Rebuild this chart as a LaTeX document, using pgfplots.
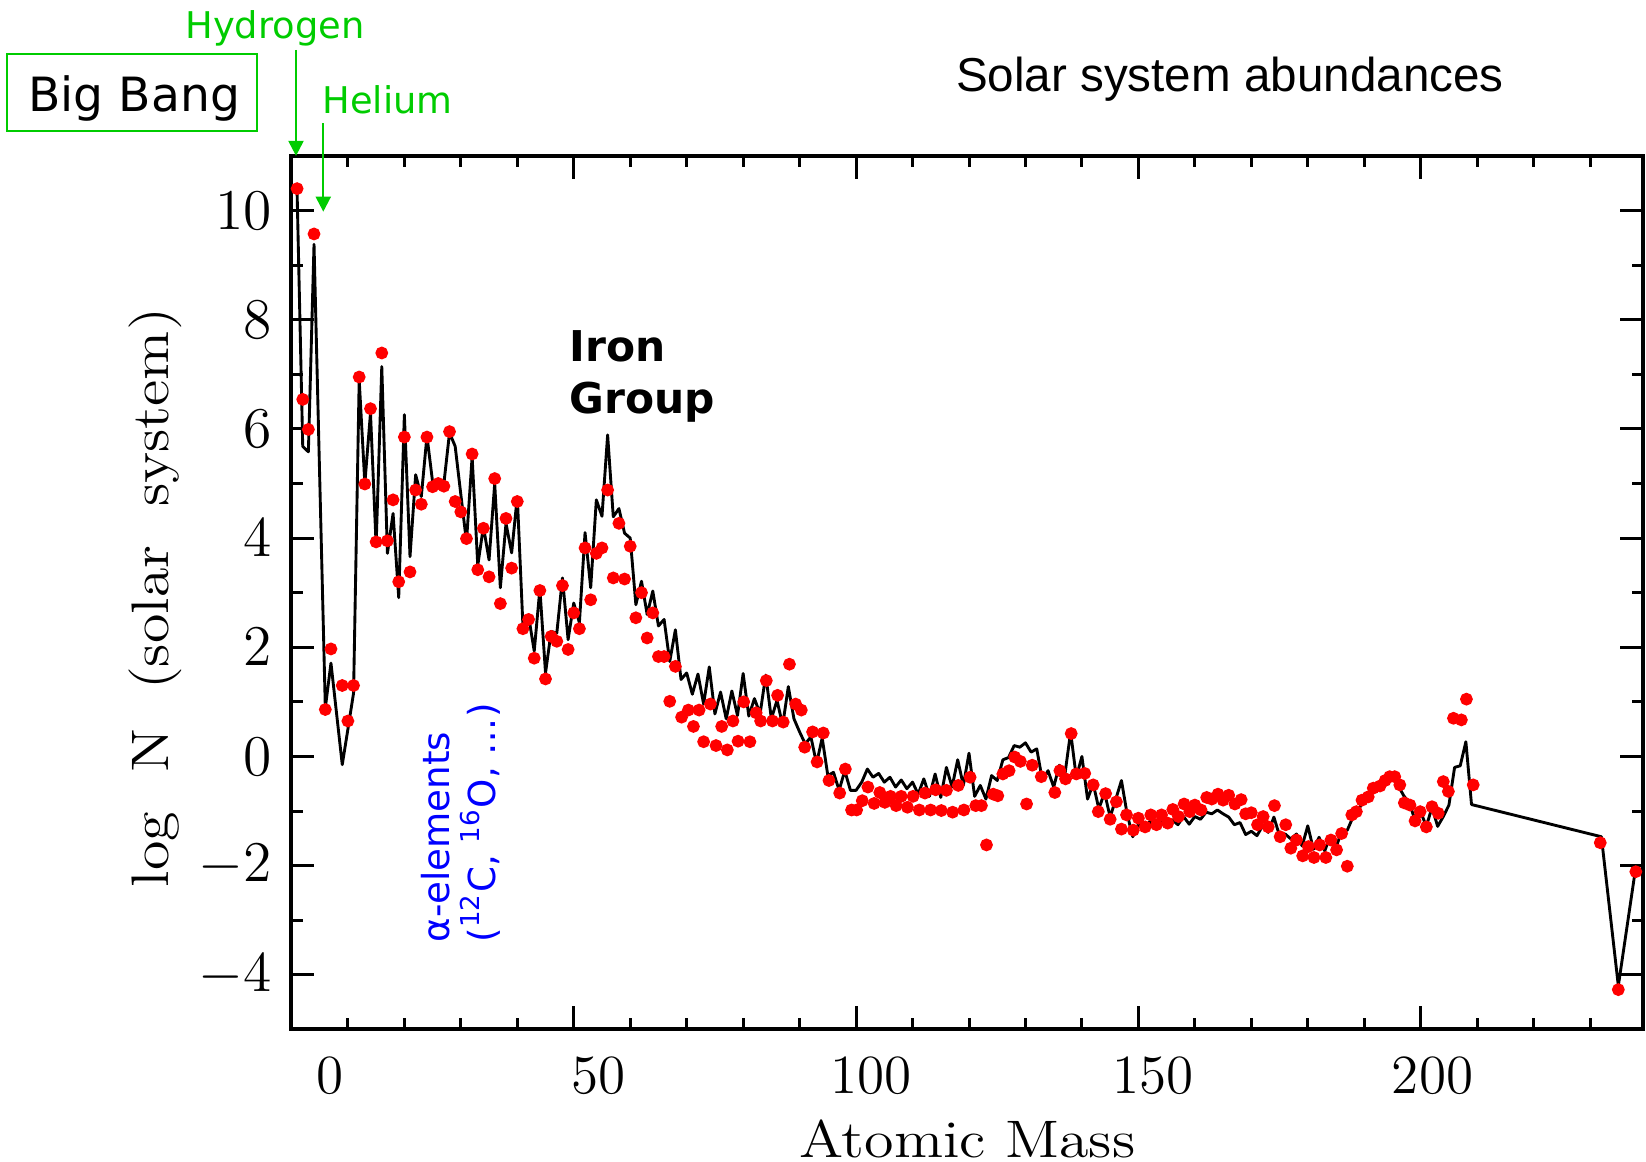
\documentclass[border=0pt]{standalone}
\usepackage{fontspec}
\usepackage{graphicx}
\usepackage{pgfplots}
\usepackage{pgfplotstable}
\pgfplotsset{compat=1.18}
\usetikzlibrary{arrows.meta}
\newfontfamily\dejavu{DejaVu Sans}
\newfontfamily\libsans{Liberation Sans}
\definecolor{bbgreen}{RGB}{0,204,0}
\definecolor{ptred}{RGB}{255,0,0}
\definecolor{alphablue}{RGB}{0,0,255}

% red points
\pgfplotstableread{
m v
1 10.40
2 6.54
3 5.99
4 9.57
6 0.86
7 1.97
9 1.30
10 0.65
11 1.30
12 6.95
13 4.99
14 6.37
15 3.93
16 7.39
17 3.95
18 4.70
19 3.20
20 5.85
21 3.38
22 4.88
23 4.62
24 5.85
25 4.94
26 5.00
27 4.95
28 5.95
29 4.67
30 4.48
31 3.99
32 5.54
33 3.42
34 4.18
35 3.29
36 5.09
37 2.80
38 4.36
39 3.45
40 4.67
41 2.34
42 2.51
43 1.80
44 3.04
45 1.42
46 2.20
47 2.11
48 3.13
49 1.96
50 2.63
51 2.34
52 3.82
53 2.87
54 3.72
55 3.82
56 4.88
57 3.27
58 4.27
59 3.25
60 3.85
61 2.54
62 3.00
63 2.17
64 2.63
65 1.83
66 1.83
67 1.01
68 1.65
69.1 0.72
70.3 0.85
71.2 0.55
72.2 0.85
73.0 0.27
74.2 0.96
75.2 0.20
76.2 0.55
77.2 0.12
78.2 0.65
79.1 0.28
80.1 1.00
81.2 0.27
82.3 0.80
83.1 0.65
84.1 1.39
85.2 0.65
86.1 1.12
87.1 0.63
88.2 1.69
89.3 0.96
90.3 0.85
90.9 0.17
92.3 0.45
93.1 -0.10
94.2 0.43
95.2 -0.44
97.1 -0.67
98.1 -0.23
99.2 -0.98
100.1 -0.98
101.1 -0.81
102.1 -0.56
103.2 -0.86
104.2 -0.66
105.1 -0.84
106.1 -0.73
107.1 -0.90
108.0 -0.73
109.1 -0.93
110.1 -0.73
111.2 -0.98
112.2 -0.67
113.2 -0.98
114.1 -0.61
115.1 -0.99
116.0 -0.62
117.1 -1.02
118.1 -0.53
119.1 -0.98
120.2 -0.38
121.2 -0.90
122.2 -0.90
123.1 -1.62
124.3 -0.69
125.1 -0.72
126.0 -0.32
127.1 -0.26
128.1 -0.01
129.1 -0.09
130.2 -0.87
131.2 -0.16
132.8 -0.37
135.2 -0.66
136.1 -0.26
137.1 -0.41
138.1 0.42
139.0 -0.32
140.5 -0.31
142.0 -0.52
142.9 -1.01
144.2 -0.68
145.0 -1.15
146.1 -0.83
147.0 -1.33
147.9 -1.07
149.1 -1.35
150.0 -1.13
151.2 -1.29
152.2 -1.07
153.2 -1.25
154.1 -1.07
155.2 -1.22
156.1 -0.97
157.1 -1.10
158.1 -0.87
159.1 -1.01
160.0 -0.89
161.1 -0.98
162.1 -0.75
163.0 -0.78
164.1 -0.69
165.0 -0.80
166.0 -0.71
167.1 -0.87
168.2 -0.79
169.0 -1.05
170.0 -1.03
171.1 -1.25
172.1 -1.10
173.0 -1.29
174.1 -0.90
175.1 -1.47
176.1 -1.25
177.0 -1.68
178.0 -1.53
179.1 -1.82
180.1 -1.65
181.1 -1.85
182.1 -1.62
183.2 -1.85
184.1 -1.53
185.1 -1.71
186.0 -1.41
187.0 -2.01
187.8 -1.07
188.6 -1.01
189.6 -0.80
190.7 -0.74
191.6 -0.58
192.8 -0.54
193.7 -0.44
194.5 -0.37
195.4 -0.37
196.3 -0.52
197.1 -0.85
198.1 -0.89
199.0 -1.18
199.9 -1.01
201.0 -1.29
202.0 -0.92
203.1 -1.04
204.0 -0.46
204.9 -0.64
205.8 0.70
207.2 0.67
208.1 1.05
209.3 -0.52
231.8 -1.58
235.0 -4.27
238.1 -2.11
}\solarpoints

% black line
\pgfplotstableread{
m v
1 10.35
2 5.68
3 5.58
4 9.38
6 0.89
7 1.71
9 -0.15
10 0.50
11 1.16
12 6.90
13 5.00
14 6.29
15 3.87
16 7.14
17 3.72
18 4.45
19 2.91
20 6.26
21 3.66
22 5.16
23 4.76
24 5.87
25 5.03
26 5.00
27 5.00
28 5.93
29 5.68
30 4.80
31 3.93
32 5.49
33 3.50
34 4.21
35 3.60
36 5.00
37 3.09
38 4.27
39 3.73
40 4.76
41 2.39
42 2.57
43 1.93
44 3.07
45 1.53
46 2.29
47 2.26
48 3.27
49 2.14
50 2.81
51 2.45
52 4.10
53 3.09
54 4.70
55 4.40
56 5.89
57 4.39
58 4.54
59 4.09
60 4.00
61 2.78
62 3.21
63 2.60
64 3.03
65 2.39
66 2.51
67 1.74
68 2.32
69 1.41
70 1.53
71 1.14
72 1.51
73 0.96
74 1.64
75 0.78
76 1.18
77 0.69
78 1.20
79 0.75
80 1.52
81 0.74
82 1.06
83 0.78
84 1.49
85 0.69
86 1.03
87 0.57
88 1.28
89 0.69
90 0.45
91 0.23
92 0.36
93 -0.13
94 0.34
95 -0.35
96 -0.29
97 -0.62
98 -0.26
99 -0.62
100 -0.62
101 -0.47
102 -0.23
103 -0.38
104 -0.31
105 -0.47
106 -0.38
107 -0.56
108 -0.43
109 -0.59
110 -0.47
111 -0.69
112 -0.41
113 -0.73
114 -0.32
115 -0.75
116 -0.20
117 -0.56
118 -0.06
119 -0.53
120 0.06
121 -0.73
122 -0.53
123 -0.78
124 -0.35
125 -0.44
126 -0.06
127 -0.02
128 0.20
129 0.17
130 0.25
131 0.08
132 0.14
133 -0.44
134 -0.26
135 -0.56
136 -0.16
137 -0.32
138 0.45
139 -0.38
140 0.00
141 -0.78
142 -0.50
143 -0.96
144 -0.66
145 -1.11
146 -0.78
147 -0.44
148 -1.05
149 -1.47
150 -1.24
151 -1.36
152 -1.19
153 -1.29
154 -1.19
155 -1.30
156 -1.16
157 -1.25
158 -1.10
159 -1.24
160 -1.10
161 -1.15
162 -1.02
163 -1.05
164 -0.98
165 -1.05
166 -1.11
167 -1.25
168 -1.21
169 -1.43
170 -1.37
171 -1.45
172 -1.27
173 -1.39
174 -1.11
175 -1.45
176 -1.42
177 -1.51
178 -1.42
179 -1.64
180 -1.27
181 -1.70
182 -1.48
183 -1.73
184 -1.45
185 -1.67
186 -1.37
187 -1.35
188 -1.11
189 -0.99
190 -0.75
191 -0.65
192 -0.55
193 -0.47
194 -0.38
195 -0.35
196 -0.53
197 -0.72
198 -0.85
199 -1.17
200 -1.02
201 -1.28
202 -0.93
203 -1.28
204 -1.10
205 -0.89
206 -0.20
207 -0.17
208 0.27
209 -0.88
232 -1.47
235 -4.20
238 -2.09
}\solarline

\begin{document}
\begin{tikzpicture}
\begin{axis}[
  at={(0pt,0pt)}, anchor=south west,
  scale only axis, width=337.93pt, height=218.4pt,
  xmin=0, xmax=239.4, ymin=-5, ymax=11,
  xtick={0,50,100,150,200}, xticklabels={},
  minor xtick={10,20,30,40,60,70,80,90,110,120,130,140,160,170,180,190,210,220,230},
  extra x ticks={6.83,54.47,102.6,152.6,202.1},
  extra x tick labels={0,50,100,150,200},
  extra x tick style={major tick length=0pt},
  ytick={-4,-2,0,2,4,6,8,10},
  minor ytick={-3,-1,1,3,5,7,9},
  major tick length=5.75pt, minor tick length=2.9pt,
  tick style={line width=0.75pt, black},
  axis line style={line width=1pt},
  tick label style={font=\fontsize{13.8}{16}\selectfont},
  xticklabel style={anchor=base, yshift=-15.95pt},
  yticklabel style={anchor=east, xshift=-1.4pt},
  xlabel={\scalebox{1.14}[1]{Atomic Mass}},
  ylabel={\scalebox{1.14}[1]{log\hspace{8.5pt}N\hspace{8.5pt}(solar\hspace{8.5pt}system)}},
  xlabel style={at={(axis description cs:0.5,0)}, anchor=base, yshift=-31.9pt, font=\fontsize{13.2}{16}\selectfont},
  ylabel style={at={(axis description cs:-0.0911,0.4945)}, anchor=base, font=\fontsize{13.2}{16}\selectfont},
]
\addplot[only marks, mark=*, mark size=1.4pt, color=ptred, mark options={draw=ptred, fill=ptred}] table[x=m, y=v] {\solarpoints};
\addplot[black, line width=0.72pt, no marks, line join=round] table[x=m, y=v] {\solarline};
\end{axis}

% Big Bang box and labels
\draw[bbgreen, line width=0.55pt] (-71.04pt,224.625pt) rectangle (-8.54pt,243.875pt);
\node[anchor=base, inner sep=0pt, font=\dejavu\fontsize{11.8}{14}\selectfont] at (-39.29pt,229.45pt) {Big Bang};
\node[anchor=base, inner sep=0pt, text=bbgreen, font=\dejavu\fontsize{9.2}{11}\selectfont] at (-4.11pt,247.8pt) {Hydrogen};
\node[anchor=base, inner sep=0pt, text=bbgreen, font=\dejavu\fontsize{9.2}{11}\selectfont] at (24.01pt,229.05pt) {Helium};
\draw[bbgreen, line width=0.55pt, -{Triangle[length=3.75pt,width=3.75pt]}] (1.14pt,244.875pt) -- (1.14pt,218.4pt);
\draw[bbgreen, line width=0.55pt, -{Triangle[length=3.75pt,width=3.75pt]}] (7.96pt,226.55pt) -- (7.96pt,204.45pt);

% title
\node[anchor=base, inner sep=0pt, font=\libsans\fontsize{11.9}{14}\selectfont] at (234.6pt,234.6pt) {Solar system abundances};

% Iron group
\node[anchor=base west, inner sep=0pt, font=\dejavu\bfseries\fontsize{10.6}{13}\selectfont] at (69.4pt,166.95pt) {Iron};
\node[anchor=base west, inner sep=0pt, font=\dejavu\bfseries\fontsize{10.6}{13}\selectfont] at (69.4pt,154.05pt) {Group};

% alpha elements
\node[rotate=90, anchor=base west, inner sep=0pt, text=alphablue, font=\dejavu\fontsize{9.3}{11}\selectfont] at (39.46pt,21.55pt) {α-elements};
\node[rotate=90, anchor=base west, inner sep=0pt, text=alphablue, font=\dejavu\fontsize{9.3}{11}\selectfont] at (50.9pt,21.55pt) {(\textsuperscript{12}C, \textsuperscript{16}O, …)};

\pgfresetboundingbox
\path (-72.86pt,-33.125pt) rectangle (338.64pt,257.375pt);
\end{tikzpicture}
\end{document}
